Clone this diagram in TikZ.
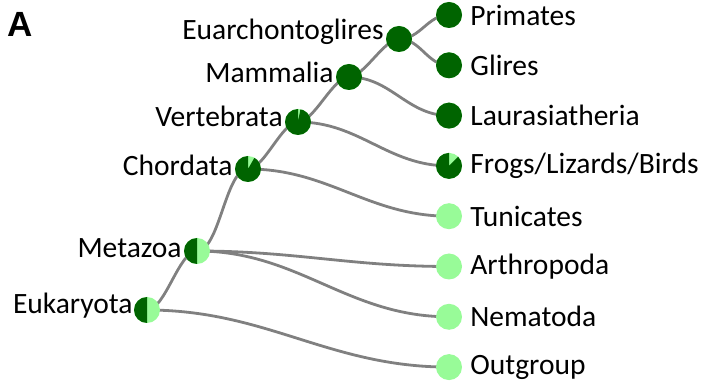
\documentclass[tikz,border=0pt]{standalone}
\usepackage{fontspec}
\setmainfont{Carlito}
\newfontfamily\panelfont{Liberation Sans}
\usepackage{tikz}
\usetikzlibrary{positioning,backgrounds}
\definecolor{cladeDark}{RGB}{0,100,0}
\definecolor{cladeLight}{RGB}{152,251,152}
\definecolor{edgeGray}{RGB}{128,128,128}

\begin{document}
\begin{tikzpicture}[x=1pt,y=1pt,
  bubble/.style={circle,minimum size=26pt,inner sep=0pt,fill=cladeLight},
  pie/.style={bubble,
    path picture={\fill[cladeDark] (path picture bounding box.center) -- ++(90:14pt)
      arc[start angle=90,delta angle=360*#1,radius=14pt] -- cycle;}},
  clade/.style={font=\fontsize{29.5}{34}\selectfont,inner sep=1pt,anchor=east},
  edge/.style={draw=edgeGray,line width=2.8pt,out=0,in=180},
  spine/.style={edge,looseness=0.6}
]
\useasboundingbox (0,0) rectangle (701,388);
\node[font=\panelfont\bfseries\fontsize{35}{40}\selectfont,inner sep=0pt] (panel) at (20,364) {A};

\node[pie=0.5] (euk) at (147,78) {};
\node[pie=0.5] (meta) at (197,137) {};
\node[pie=0.917] (chor) at (248,219) {};
\node[pie=0.97] (vert) at (298,266) {};
\node[pie=1] (mamm) at (349,311) {};
\node[pie=1] (euar) at (399,349) {};

\node[clade,above left=-9pt and 0pt of euk.west] (eukL) {Eukaryota};
\node[clade,above left=-8pt and 1pt of meta.west] (metaL) {Metazoa};
\node[clade,above left=-8pt and 1pt of chor.west] (chorL) {Chordata};
\node[clade,above left=-6pt and 1pt of vert.west] (vertL) {Vertebrata};
\node[clade,above left=-7pt and 1pt of mamm.west] (mammL) {Mammalia};
\node[clade,above left=-7pt and 1pt of euar.west] (euarL) {Euarchontoglires};

\node[pie=1] (prim) at (449,373) {};
\node[pie=1] (glir) at (449,322.7) {};
\node[pie=1] (laur) at (449,272.4) {};
\node[pie=0.875] (frog) at (449,222.1) {};
\node[bubble] (tuni) at (449,171.8) {};
\node[bubble] (arth) at (449,121.5) {};
\node[bubble] (nema) at (449,71.2) {};
\node[bubble] (outg) at (449,20.9) {};

\node[clade,anchor=west,right=7pt of prim] (primL) {Primates};
\node[clade,anchor=west,right=7pt of glir] (glirL) {Glires};
\node[clade,anchor=west,right=7pt of laur] (laurL) {Laurasiatheria};
\node[clade,anchor=west,right=7pt of frog] (frogL) {Frogs/Lizards/Birds};
\node[clade,anchor=west,right=7pt of tuni] (tuniL) {Tunicates};
\node[clade,anchor=west,right=7pt of arth] (arthL) {Arthropoda};
\node[clade,anchor=west,right=7pt of nema] (nemaL) {Nematoda};
\node[clade,anchor=west,right=7pt of outg] (outgL) {Outgroup};

\begin{scope}[on background layer]
\draw[spine] (euk.center) to (meta.center);
\draw[edge] (euk.center) to (outg.center);
\draw[spine] (meta.center) to (chor.center);
\draw[edge] (meta.center) to (arth.center);
\draw[edge] (meta.center) to (nema.center);
\draw[spine] (chor.center) to (vert.center);
\draw[edge] (chor.center) to (tuni.center);
\draw[spine] (vert.center) to (mamm.center);
\draw[edge] (vert.center) to (frog.center);
\draw[spine] (mamm.center) to (euar.center);
\draw[edge] (mamm.center) to (laur.center);
\draw[edge] (euar.center) to (prim.center);
\draw[edge] (euar.center) to (glir.center);
\end{scope}
\end{tikzpicture}
\end{document}
